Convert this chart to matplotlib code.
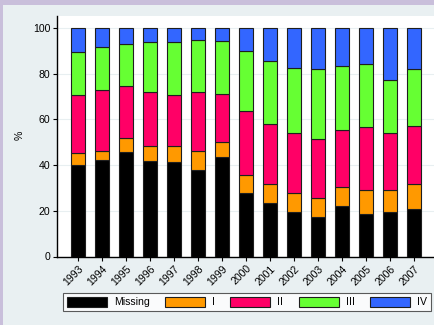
import matplotlib
matplotlib.use("Agg")
import matplotlib.pyplot as plt
import numpy as np
from matplotlib.patches import Rectangle

plt.rcParams['font.family'] = ['Liberation Sans', 'DejaVu Sans']

years = ["1993", "1994", "1995", "1996", "1997", "1998", "1999", "2000",
         "2001", "2002", "2003", "2004", "2005", "2006", "2007"]

# Percentage share of each stage per year (stacks sum to 100)
missing = [40.2, 42.3, 45.6, 41.8, 41.4, 37.9, 43.6, 27.7, 23.6, 19.4, 17.2, 22.0, 18.8, 19.6, 20.6]
stage_i = [5.3, 4.1, 6.4, 6.5, 7.1, 8.1, 6.7, 7.9, 8.3, 8.6, 8.5, 8.3, 10.2, 9.7, 11.3]
stage_ii = [25.2, 26.6, 22.8, 23.7, 22.2, 26.1, 21.0, 27.9, 26.3, 26.2, 25.9, 24.9, 27.5, 24.6, 25.4]
stage_iii = [18.9, 18.8, 18.3, 21.8, 23.3, 22.6, 23.1, 26.4, 27.2, 28.3, 30.6, 28.0, 27.6, 23.5, 25.0]
stage_iv = [10.4, 8.2, 6.9, 6.2, 6.0, 5.3, 5.6, 10.1, 14.6, 17.5, 17.8, 16.8, 15.9, 22.6, 17.7]

series = [("Missing", missing, "#000000"),
          ("I", stage_i, "#ff9900"),
          ("II", stage_ii, "#ff0066"),
          ("III", stage_iii, "#66ff33"),
          ("IV", stage_iv, "#3366ff")]

W, H = 435, 325
fig = plt.figure(figsize=(W / 100, H / 100), dpi=100)
fig.patch.set_facecolor("#e9f0f2")

# decorative frame strips
fig.add_artist(Rectangle((0, 1 - 5 / H), 1, 5 / H, transform=fig.transFigure,
                         facecolor="#c9bfdb", edgecolor="none", zorder=0))
fig.add_artist(Rectangle((0, 0), 3 / W, 1, transform=fig.transFigure,
                         facecolor="#c9bfdb", edgecolor="none", zorder=0))

left, right = 57.3, 435
top, bottom = 16, 256.5
ax = fig.add_axes([left / W, 1 - bottom / H, (right - left) / W, (bottom - top) / H])
ax.set_facecolor("white")

x = np.arange(len(years))
base = np.zeros(len(years))
handles = []
for name, vals, col in series:
    b = ax.bar(x, vals, width=0.58, bottom=base, color=col, edgecolor="#1e1e1e",
               linewidth=0.8, label=name, zorder=3)
    handles.append(b)
    base += np.array(vals)

ax.set_ylim(0, 105.3)
ax.set_xlim(-0.875, 14.86)
ax.set_yticks([0, 20, 40, 60, 80, 100])
ax.yaxis.grid(True, color="#e8eff1", linewidth=0.8, zorder=0)
ax.set_axisbelow(True)

for s in ("top", "right"):
    ax.spines[s].set_visible(False)
for s in ("left", "bottom"):
    ax.spines[s].set_color("black")
    ax.spines[s].set_linewidth(1.0)

ax.set_xticks(x)
ax.set_xticklabels(years, rotation=45, ha="right", va="top", rotation_mode="anchor")
ax.tick_params(axis="both", labelsize=7.6, colors="black", length=3, width=0.8)
ax.tick_params(axis="y", pad=2)
ax.tick_params(axis="x", pad=2)

fig.text(20 / W, 1 - 135 / H, "%", rotation=90, ha="center", va="center", fontsize=7.6)

leg = fig.legend(handles=handles, labels=[s[0] for s in series], ncol=5,
                 loc="center", bbox_to_anchor=(247 / W, 1 - 302 / H),
                 fontsize=7.6, frameon=True, fancybox=False, edgecolor="#333333",
                 handlelength=3.8, handleheight=1.05, handletextpad=0.65,
                 columnspacing=1.45, borderpad=0.35, borderaxespad=0)
leg.get_frame().set_linewidth(0.8)
leg.get_frame().set_facecolor("white")

fig.savefig("out.png", dpi=100, facecolor=fig.get_facecolor())
